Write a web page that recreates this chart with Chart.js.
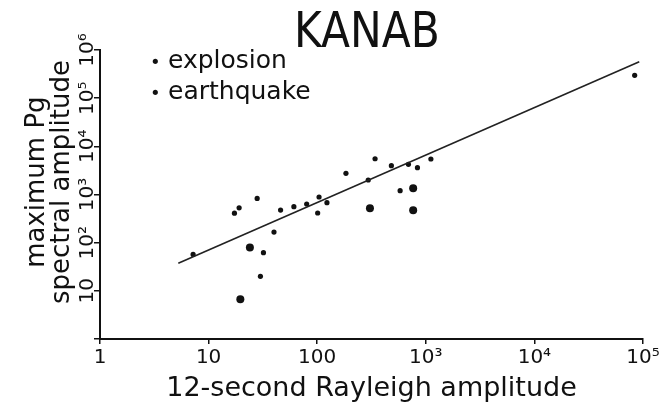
<!DOCTYPE html>
<html>
<head>
<meta charset="utf-8">
<script src="https://cdn.jsdelivr.net/npm/chart.js@4.4.1/dist/chart.umd.min.js"></script>
<style>
  body { margin: 0; background: #fff; }
  #wrap { position: relative; width: 672px; height: 420px; }
  #title {
    position: absolute; left: 294px; top: 6px;
    font: 400 49px/50px "DejaVu Sans", sans-serif; color: #111;
    transform: scaleX(0.865); transform-origin: left top; white-space: nowrap;
  }
  #legend {
    position: absolute; left: 150px; top: 45px;
    font: 25px/29px "DejaVu Sans", sans-serif; color: #111; white-space: nowrap;
  }
  #legend .dot { display: inline-block; width: 18px; font-size: 18px; }
</style>
</head>
<body>
<div id="wrap">
  <canvas id="chart" width="672" height="420"></canvas>
  <div id="title">KANAB</div>
  <div id="legend"><span class="dot">•</span>explosion<br><span class="dot">•</span>earthquake</div>
</div>
<script>
// decades on each axis
const xTicks = [1, 10, 100, 1000, 10000, 100000];
const xTickLabels = ['1', '10', '100', '10³', '10⁴', '10⁵'];
const yTicks = [1, 10, 100, 1000, 10000, 100000, 1000000];
const yTickLabels = ['', '10', '10²', '10³', '10⁴', '10⁵', '10⁶'];

// 12-second Rayleigh amplitude vs maximum Pg spectral amplitude
const explosionX = [7.2, 17.3, 19.1, 28, 30, 32, 40, 46, 61, 80, 104, 101, 123, 184, 295, 341, 482, 580, 692, 838, 1114, 83800];
const explosionY = [57, 410, 530, 830, 20, 62, 166, 476, 558, 635, 887, 413, 676, 2750, 2000, 5530, 3960, 1200, 4240, 3600, 5460, 298000];
const quakeX = [24, 19.6, 306, 765, 765];
const quakeY = [79, 6.7, 517, 1345, 470];

// fitted line end points
const fitX = [5.26, 92400];
const fitY = [37.3, 571000];

const toPoints = (xs, ys) => xs.map((x, i) => ({ x: x, y: ys[i] }));

const ink = '#111';
const axisFont = { family: 'DejaVu Sans', size: 20 };

new Chart(document.getElementById('chart'), {
    type: 'scatter',
    data: {
        datasets: [
            {
                label: 'fit',
                type: 'line',
                data: toPoints(fitX, fitY),
                borderColor: '#222',
                borderWidth: 1.6,
                pointRadius: 0,
                fill: false
            },
            {
                label: 'explosion',
                data: toPoints(explosionX, explosionY),
                backgroundColor: ink,
                borderWidth: 0,
                pointRadius: 2.6
            },
            {
                label: 'earthquake',
                data: toPoints(quakeX, quakeY),
                backgroundColor: ink,
                borderWidth: 0,
                pointRadius: 4
            }
        ]
    },
    options: {
        responsive: false,
        animation: false,
        layout: { padding: { top: 50, right: 29, bottom: 0, left: 0 } },
        plugins: {
            legend: { display: false },
            tooltip: { enabled: false }
        },
        scales: {
            x: {
                type: 'logarithmic',
                min: 1,
                max: 100000,
                afterBuildTicks: s => { s.ticks = xTicks.map(v => ({ value: v })); },
                afterFit: s => { s.height = 81; },
                border: { display: true, color: ink, width: 2 },
                grid: { drawOnChartArea: false, drawTicks: true, tickLength: 5, color: ink, lineWidth: 1.5 },
                ticks: {
                    color: ink,
                    font: axisFont,
                    padding: 2,
                    maxRotation: 0,
                    autoSkip: false,
                    callback: (v, i) => xTickLabels[i]
                },
                title: {
                    display: true,
                    text: '12-second Rayleigh amplitude',
                    color: ink,
                    font: { family: 'DejaVu Sans', size: 27, lineHeight: 1.2 },
                    padding: { top: 0, bottom: 15 }
                }
            },
            y: {
                type: 'logarithmic',
                min: 1,
                max: 1000000,
                afterBuildTicks: s => { s.ticks = yTicks.map(v => ({ value: v })); },
                afterFit: s => { s.width = 100; },
                border: { display: true, color: ink, width: 2 },
                grid: { drawOnChartArea: false, drawTicks: true, tickLength: 6, color: ink, lineWidth: 1.5 },
                ticks: {
                    color: ink,
                    font: axisFont,
                    padding: -11,
                    minRotation: 90,
                    maxRotation: 90,
                    crossAlign: 'center',
                    autoSkip: false,
                    callback: (v, i) => yTickLabels[i]
                },
                title: {
                    display: true,
                    // leading spaces nudge the lines up a little, as in the original
                    text: ['   maximum Pg', '   spectral amplitude'],
                    color: ink,
                    font: { family: 'DejaVu Sans', size: 26, lineHeight: 0.96 },
                    padding: { top: 25, bottom: 0 }
                }
            }
        }
    }
});
</script>
</body>
</html>
